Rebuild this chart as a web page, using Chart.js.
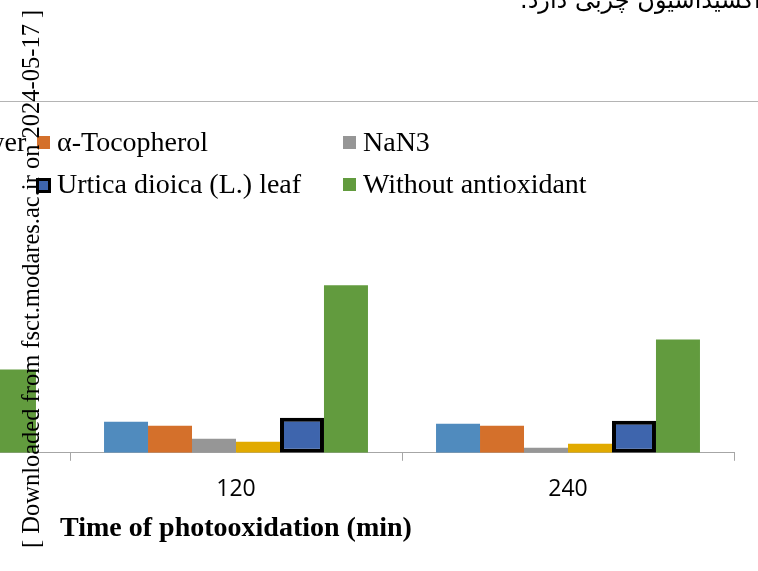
<!DOCTYPE html>
<html>
<head>
<meta charset="utf-8">
<script src="https://cdn.jsdelivr.net/npm/chart.js@4.4.1/dist/chart.umd.min.js"></script>
<style>
  html, body { margin: 0; padding: 0; background: #fff; }
  body { width: 758px; height: 571px; position: relative; overflow: hidden; }
  #wrap { position: absolute; left: -300px; top: 0; width: 1058px; height: 571px; }
  #rule { position: absolute; left: 0; top: 101px; width: 758px; height: 1px; background: #b4b4b4; }
  #fa { position: absolute; left: 520px; top: -12px; font-family: 'DejaVu Sans', 'Noto Sans'; font-size: 24px; line-height: 1; direction: rtl; white-space: nowrap; color: #000; }
  #stamp { position: absolute; left: 19px; top: 548px; font-family: 'Liberation Serif'; font-size: 24.5px; line-height: 1; white-space: nowrap; transform-origin: 0 0; transform: rotate(-90deg); color: #000; }
</style>
</head>
<body>
<div id="wrap"><canvas id="chart" width="1058" height="571"></canvas></div>
<div id="rule"></div>
<div id="fa">تأثیر زیادی در افزایش اکسیداسیون چربی دارد.</div>
<div id="stamp">[ Downloaded from fsct.modares.ac.ir on 2024-05-17 ]</div>
<script>
// data (first group is mostly cut off on the left)
const categories = ['60', '120', '240'];
const flowerValues = [2.0, 3.1, 2.9];
const tocopherolValues = [1.8, 2.7, 2.7];
const nan3Values = [1.0, 1.4, 0.5];
const caroteneValues = [0.8, 1.1, 0.9];
const leafValues = [2.2, 3.5, 3.2];
const controlValues = [8.3, 16.7, 11.3];

const seriesNames = ['Urtica dioica (L.) flower', 'α-Tocopherol', 'NaN3',
    'β-Carotene', 'Urtica dioica (L.) leaf', 'Without antioxidant'];

// legend laid out as a 3-column grid, like the original
const gridLegend = {
    id: 'gridLegend',
    afterDraw(chart, args, opts) {
        const ctx = chart.ctx;
        ctx.save();
        ctx.font = opts.font;
        ctx.textBaseline = 'alphabetic';
        chart.data.datasets.forEach((ds, i) => {
            const col = i % opts.columns;
            const row = Math.floor(i / opts.columns);
            const x = opts.left + col * opts.colWidth;
            const base = opts.top + row * opts.rowHeight;
            if (ds.borderWidth > 1) {
                ctx.fillStyle = ds.borderColor;
                ctx.fillRect(x - 1, base - 15, 15, 15);
                ctx.fillStyle = ds.backgroundColor;
                ctx.fillRect(x + 2, base - 12, 9, 9);
            } else {
                ctx.fillStyle = ds.backgroundColor;
                ctx.fillRect(x, base - 15, 13, 13);
            }
            ctx.fillStyle = '#000';
            ctx.fillText(ds.label, x + 20, base);
        });
        ctx.restore();
    }
};

const ctx = document.getElementById('chart').getContext('2d');
const chart = new Chart(ctx, {
    type: 'bar',
    data: {
        labels: categories,
        datasets: [
            { label: seriesNames[0], data: flowerValues, backgroundColor: '#508BBE', borderWidth: 0 },
            { label: seriesNames[1], data: tocopherolValues, backgroundColor: '#D4702B', borderWidth: 0 },
            { label: seriesNames[2], data: nan3Values, backgroundColor: '#969696', borderWidth: 0 },
            { label: seriesNames[3], data: caroteneValues, backgroundColor: '#E1AA00', borderWidth: 0 },
            { label: seriesNames[4], data: leafValues, backgroundColor: '#3E65AD', borderColor: '#000', borderWidth: 4, borderSkipped: false },
            { label: seriesNames[5], data: controlValues, backgroundColor: '#629B3E', borderWidth: 0 }
        ]
    },
    options: {
        responsive: false,
        animation: false,
        devicePixelRatio: 1,
        categoryPercentage: 0.795,
        barPercentage: 1,
        layout: {
            padding: { left: 38, right: 24, top: 212, bottom: 25 }
        },
        plugins: {
            legend: { display: false },
            tooltip: { enabled: false },
            gridLegend: {
                font: "28px 'Liberation Serif'",
                columns: 3,
                left: 31,
                colWidth: 306,
                top: 151,
                rowHeight: 42
            }
        },
        scales: {
            y: {
                display: false,
                min: 0,
                max: 24
            },
            x: {
                offset: true,
                grid: {
                    offset: true,
                    drawOnChartArea: false,
                    drawTicks: true,
                    tickLength: 8,
                    color: '#a6a6a6'
                },
                border: { display: true, color: '#a6a6a6', width: 1 },
                ticks: {
                    color: '#000',
                    font: { family: "'Open Sans'", size: 23 },
                    padding: 15,
                    maxRotation: 0,
                    autoSkip: false
                },
                title: {
                    display: true,
                    text: 'Time of photooxidation (min)',
                    color: '#000',
                    font: { family: "'Liberation Serif'", size: 28, weight: 'bold' },
                    padding: { top: -6, bottom: 0 }
                }
            }
        }
    },
    plugins: [gridLegend]
});
</script>
</body>
</html>
